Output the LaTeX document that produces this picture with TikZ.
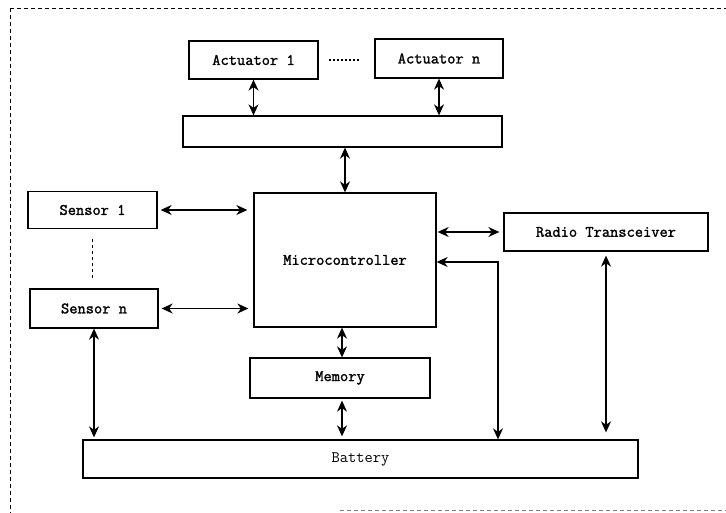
\documentclass[tikz,border=0pt]{standalone}
\usepackage{fontspec}
\setmonofont{Latin Modern Mono}[AutoFakeBold=1.6]
\usetikzlibrary{arrows.meta}
\begin{document}
\begin{tikzpicture}[x=1pt,y=-1pt,
  box/.style={draw, line width=1.3pt, rectangle, inner sep=0pt, font=\ttfamily\bfseries\fontsize{16}{18}\selectfont},
  arr/.style={line width=1.2pt, {Stealth[length=11pt,width=10pt,inset=3.5pt]}-{Stealth[length=11pt,width=10pt,inset=3.5pt]}},
  frame/.style={line width=0.9pt, dash pattern=on 4pt off 3pt}]
\useasboundingbox (0,0) rectangle (726,513);
% frame
\draw[frame] (10,8) -- (726,8);
\draw[frame] (10,8) -- (10,513);
\draw[frame, gray] (340,510) -- (726,510);
% nodes
\node[box, minimum width=129pt, minimum height=38pt] (act1) at (253.5,60) {Actuator 1};
\node[box, minimum width=128pt, minimum height=39pt] (actn) at (439,58.5) {Actuator n};
\node[box, minimum width=319pt, minimum height=31pt] (bar) at (342.5,131.5) {};
\node[box, minimum width=182pt, minimum height=134pt] (mc) at (345,260) {Microcontroller};
\node[box, minimum width=129pt, minimum height=37pt] (s1) at (92.5,210) {Sensor 1};
\node[box, minimum width=128pt, minimum height=39pt] (sn) at (94,308.5) {Sensor n};
\node[box, minimum width=204pt, minimum height=38pt] (radio) at (606,232) {Radio Transceiver};
\node[box, minimum width=180pt, minimum height=40pt] (mem) at (340,378) {Memory};
\node[box, minimum width=555pt, minimum height=38pt, font=\ttfamily\fontsize{16}{18}\selectfont] (bat) at (360.5,459) {Battery};
\coordinate (bx) at (498,0);
\coordinate (by) at (0,262);
\coordinate (mx) at (342,0);
% dotted separators
\draw[line width=1.3pt, dash pattern=on 2pt off 2pt, shorten <=10pt, shorten >=14pt] (act1.east) -- (act1.east -| actn.west);
\draw[line width=1pt, dash pattern=on 3pt off 3pt, shorten <=10pt, shorten >=9pt] (s1.south) -- (s1.south |- sn.north);
% connectors
\draw[arr] (act1.south) -- (act1.south |- bar.north);
\draw[arr] (actn.south) -- (actn.south |- bar.north);
\draw[arr] (bar.south -| mc.north) -- (mc.north);
\draw[arr, shorten <=3pt, shorten >=6pt] (s1.east) -- (s1.east -| mc.west);
\draw[arr, shorten <=3pt, shorten >=5pt] (sn.east) -- (sn.east -| mc.west);
\draw[arr, shorten <=1pt, shorten >=4pt] (radio.west -| mc.east) -- (radio.west);
\draw[arr] (mc.east |- by) -| (bat.north -| bx);
\draw[arr, shorten <=4pt, shorten >=7pt] (radio.south) -- (radio.south |- bat.north);
\draw[arr] (mc.south -| mx) -- (mem.north -| mx);
\draw[arr, shorten <=2pt, shorten >=3pt] (mem.south -| mx) -- (bat.north -| mx);
\draw[arr, shorten >=2pt] (sn.south) -- (sn.south |- bat.north);
\end{tikzpicture}
\end{document}
